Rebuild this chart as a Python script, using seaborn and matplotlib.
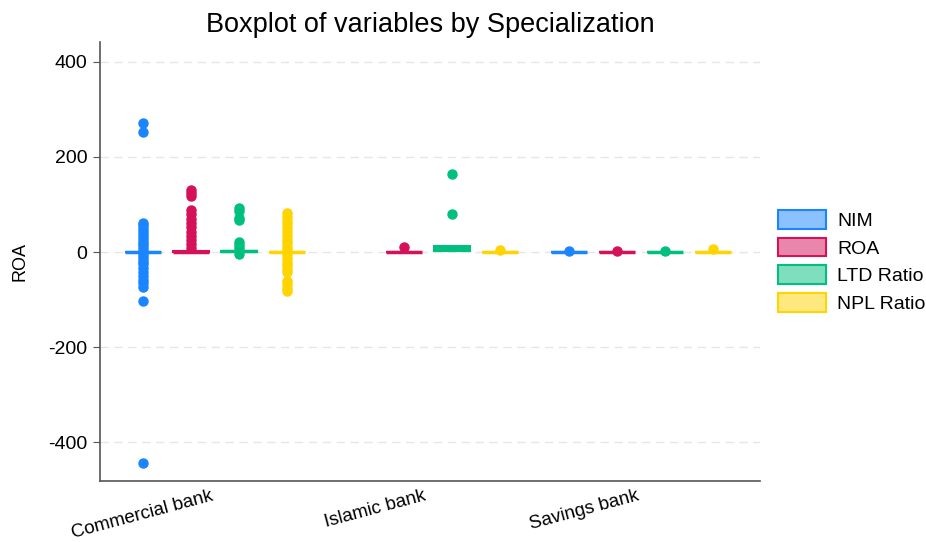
import numpy as np
import pandas as pd
import seaborn as sns
import matplotlib.pyplot as plt
from matplotlib.colors import to_rgb
from matplotlib.patches import Patch

specs = ["Commercial bank", "Islamic bank", "Savings bank"]
variables = ["NIM", "ROA", "LTD Ratio", "NPL Ratio"]
colors = ["#1a85ff", "#d41159", "#00bf7f", "#ffd400"]

comm_nim = [272, 253, 62, 56, 50, 44, 38, 32, 26, 20, 14, 8, 3,
            -3, -8, -14, -20, -26, -34, -42, -50, -58, -66, -74, -104, -445,
            0.1, 0.3, 0.5, 0.2, 0.4, 0.6, 0.1, 0.2, 0.3, 0.4, 0.5, 0.2,
            0.3, 0.4, 0.1, 0.6, 0.5, 0.3, 0.2, 0.4, 0.3, 0.1, 0.5, 0.2,
            0.4, 0.3, 0.2, 0.6, 0.1, 0.3, 0.4, 0.5, 0.2, 0.3, 0.4, 0.3]
comm_roa = [131, 124, 117, 88, 79, 70, 61, 52, 43, 34, 25, 16, 8,
            0.5, 0.7, 0.9, 1.1, 0.6, 0.8, 1.0, 1.2, 0.7, 0.9, 0.8, 1.0,
            0.6, 0.9, 1.1, 0.7, 0.8, 1.0, 0.9, 0.5, 0.8, 1.2, 0.7, 0.9,
            1.0, 0.8, 0.6, 0.9, 1.1, 0.8, 0.7, 1.0, 0.9, 0.8, 0.6, 1.1,
            0.9, 0.7, 0.8, 1.0, 0.9]
comm_ltd = [92, 86, 72, 67, 22, 15, 8, -5,
            0.8, 1.0, 1.2, 0.9, 1.1, 1.3, 1.0, 0.8, 1.2, 1.1, 0.9, 1.0,
            1.3, 1.1, 0.9, 1.0, 1.2, 0.8, 1.1, 1.0, 0.9, 1.2, 1.0, 1.1,
            0.9, 1.0]
comm_npl = [82, 74, 66, 58, 50, 42, 34, 26, 18, 10, 4,
            -4, -12, -20, -28, -36, -42, -60, -68, -75, -82,
            0.4, 0.6, 0.8, 0.5, 0.7, 0.9, 0.6, 0.4, 0.8, 0.7, 0.5, 0.6,
            0.9, 0.7, 0.5, 0.6, 0.8, 0.4, 0.7, 0.6, 0.5, 0.8, 0.6, 0.7,
            0.9, 0.5, 0.6, 0.7, 0.8, 0.6]
isl_roa = [-0.2, 0.0, 0.2, 0.4, 0.1, 0.3, 0.5, 0.2, 0.0, 0.3, 10]
isl_ltd = [0.5, 1.0, 2.0, 3.0, 4.5, 6.0, 8.0, 10.0, 12.0, 13.0, 14.0, 80, 165]
isl_npl = [-0.3, -0.1, 0.0, 0.2, 0.4, -0.2, 0.1, 0.3, 0.0, -0.1, 5]
sav_nim = [-0.2, 0.0, 0.1, 0.2, -0.1, 0.1, 0.0, 0.2, -0.1, 0.1, 1.5]
sav_roa = [-0.1, 0.1, 0.2, 0.0, -0.2, 0.1, 0.0, 0.2, 0.1, -0.1, 1.5]
sav_ltd = [0.0, 0.2, 0.1, -0.1, 0.1, 0.2, 0.0, -0.1, 0.1, 0.0, 1.5]
sav_npl = [-0.1, 0.0, 0.1, 0.2, 0.1, 0.0, -0.1, 0.2, 0.1, 0.0, 6]

groups = {
    ("Commercial bank", "NIM"): comm_nim,
    ("Commercial bank", "ROA"): comm_roa,
    ("Commercial bank", "LTD Ratio"): comm_ltd,
    ("Commercial bank", "NPL Ratio"): comm_npl,
    ("Islamic bank", "ROA"): isl_roa,
    ("Islamic bank", "LTD Ratio"): isl_ltd,
    ("Islamic bank", "NPL Ratio"): isl_npl,
    ("Savings bank", "NIM"): sav_nim,
    ("Savings bank", "ROA"): sav_roa,
    ("Savings bank", "LTD Ratio"): sav_ltd,
    ("Savings bank", "NPL Ratio"): sav_npl,
}
rows = [(s, v, x) for (s, v), vals in groups.items() for x in vals]
df = pd.DataFrame(rows, columns=["Specialization", "variable", "value"])

sns.set_style("white")
plt.rcParams["font.family"] = ["Liberation Sans", "DejaVu Sans"]
plt.rcParams["text.color"] = "black"
plt.rcParams["xtick.color"] = "black"
plt.rcParams["ytick.color"] = "black"
plt.rcParams["axes.labelcolor"] = "black"

fig = plt.figure(figsize=(9.26, 5.42), dpi=100)
ax = fig.add_axes([0.108, 0.1125, 0.713, 0.81])

sns.boxplot(data=df, x="Specialization", y="value", hue="variable",
            order=specs, hue_order=variables, palette=colors,
            width=0.9, gap=0.25, whis=1.5, showcaps=False, linewidth=1.5,
            flierprops=dict(marker="o", markersize=6.5), legend=False, ax=ax)

# stata-like look: light box fill, solid coloured lines and points
for cont, col in zip(ax.containers, colors):
    for b in cont.boxes:
        b.set_facecolor((*to_rgb(col), 0.5))
        b.set_edgecolor(col)
    for ln in cont.medians:
        ln.set_color(col)
        ln.set_linewidth(2.5)
    for ln in cont.whiskers:
        ln.set_color(col)
    for f in cont.fliers:
        f.set_markerfacecolor(col)
        f.set_markeredgecolor(col)

ax.set_xlim(-0.54, 2.56)
ax.set_ylim(-482, 442)
ax.set_yticks([-400, -200, 0, 200, 400])
ax.set_yticklabels(["-400", "-200", "0", "200", "400"])
ax.yaxis.grid(True, linestyle=(0, (6, 4)), color="#e6e6e6", linewidth=1)
ax.set_axisbelow(True)
for side in ["top", "right"]:
    ax.spines[side].set_visible(False)
for side in ["left", "bottom"]:
    ax.spines[side].set_color("#555555")
    ax.spines[side].set_linewidth(1.2)
ax.tick_params(axis="y", left=True, length=5, color="#555555", labelsize=14, pad=4)
ax.tick_params(axis="x", bottom=False, labelsize=13.5, pad=1)
ax.set_xticks(range(len(specs)))
ax.set_xticklabels(specs, rotation=15, ha="right")
ax.set_xlabel("")
ax.set_ylabel("ROA", fontsize=13, labelpad=14)
ax.set_title("Boxplot of variables by Specialization", fontsize=19.5, pad=7)

handles = [Patch(facecolor=(*to_rgb(c), 0.5), edgecolor=c,
                 linewidth=1.5, label=v) for c, v in zip(colors, variables)]
ax.legend(handles=handles, loc="center left", bbox_to_anchor=(1.0, 0.5),
          frameon=False, fontsize=14, handlelength=2.5, handleheight=1.1,
          labelspacing=0.4, handletextpad=0.55)

plt.savefig("out.png", dpi=100)
